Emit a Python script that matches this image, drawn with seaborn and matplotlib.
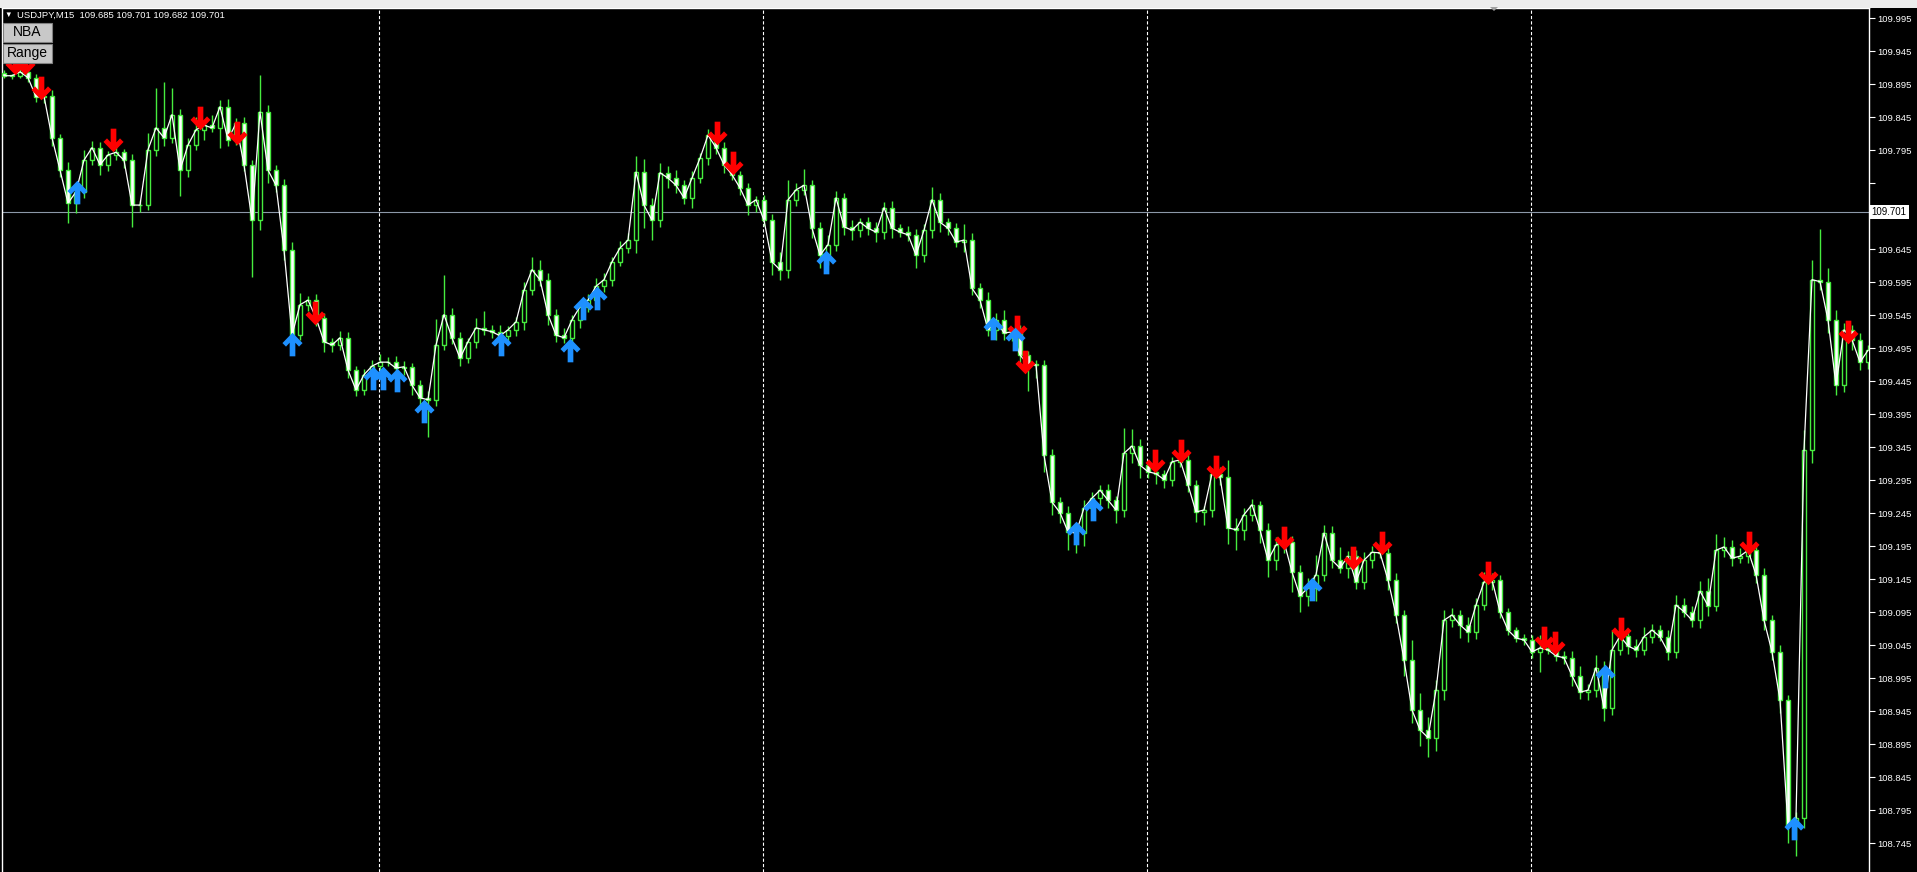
import matplotlib
matplotlib.use("Agg")
import matplotlib.pyplot as plt
import seaborn as sns
import numpy as np
import pandas as pd
from matplotlib.path import Path
from matplotlib.markers import MarkerStyle
from matplotlib.patches import Rectangle, Polygon

sns.set_style("dark")
plt.rcParams['font.family'] = ['Liberation Sans', 'DejaVu Sans']

W, H = 1917, 872

# USDJPY M15 closes (one candle per two bars)
closes = [
    109.908, 109.908, 109.914, 109.905, 109.876, 109.877, 109.814, 109.765, 109.715, 109.732,
    109.780, 109.799, 109.773, 109.788, 109.792, 109.780, 109.712, 109.712, 109.796, 109.829,
    109.814, 109.849, 109.765, 109.803, 109.826, 109.833, 109.829, 109.861, 109.811, 109.836,
    109.773, 109.689, 109.853, 109.765, 109.742, 109.644, 109.515, 109.561, 109.568, 109.541,
    109.505, 109.500, 109.511, 109.462, 109.432, 109.455, 109.468, 109.474, 109.474, 109.465,
    109.467, 109.439, 109.420, 109.417, 109.500, 109.546, 109.511, 109.480, 109.505, 109.526,
    109.523, 109.520, 109.514, 109.523, 109.535, 109.583, 109.614, 109.599, 109.546, 109.515,
    109.511, 109.538, 109.558, 109.568, 109.589, 109.599, 109.626, 109.647, 109.659, 109.762,
    109.712, 109.689, 109.761, 109.753, 109.742, 109.723, 109.753, 109.783, 109.818, 109.799,
    109.773, 109.758, 109.738, 109.712, 109.720, 109.689, 109.626, 109.614, 109.720, 109.735,
    109.742, 109.677, 109.636, 109.652, 109.723, 109.679, 109.674, 109.686, 109.677, 109.671,
    109.708, 109.677, 109.671, 109.667, 109.636, 109.674, 109.720, 109.686, 109.677, 109.656,
    109.659, 109.586, 109.568, 109.523, 109.538, 109.518, 109.520, 109.485, 109.470, 109.470,
    109.333, 109.262, 109.246, 109.217, 109.215, 109.253, 109.268, 109.280, 109.265, 109.250,
    109.336, 109.347, 109.318, 109.308, 109.305, 109.296, 109.323, 109.326, 109.288, 109.247,
    109.250, 109.305, 109.300, 109.223, 109.220, 109.243, 109.258, 109.220, 109.174, 109.197,
    109.202, 109.156, 109.120, 109.132, 109.152, 109.215, 109.174, 109.162, 109.180, 109.141,
    109.174, 109.186, 109.185, 109.144, 109.091, 109.023, 108.947, 108.917, 108.905, 108.977,
    109.083, 109.091, 109.076, 109.065, 109.106, 109.141, 109.144, 109.096, 109.068, 109.056,
    109.053, 109.035, 109.041, 109.038, 109.029, 109.026, 108.999, 108.974, 108.977, 109.011,
    108.950, 109.038, 109.059, 109.044, 109.038, 109.058, 109.068, 109.058, 109.035, 109.106,
    109.096, 109.083, 109.127, 109.105, 109.189, 109.194, 109.177, 109.180, 109.189, 109.152,
    109.083, 109.035, 108.962, 108.771, 108.783, 109.341, 109.599, 109.596, 109.538, 109.439,
    109.523, 109.508, 109.474, 109.492,
]
first_open = 109.912

# wick lengths in points (0.001) above / below the body
upper_wick = [
    4, 3, 6, 4, 5, 8, 10, 6, 12, 8,
    15, 10, 8, 6, 12, 5, 10, 8, 25, 60,
    70, 40, 8, 10, 20, 8, 15, 10, 12, 8,
    10, 8, 56, 10, 8, 10, 12, 18, 6, 10,
    8, 6, 10, 8, 6, 8, 10, 12, 8, 10,
    8, 6, 8, 10, 40, 60, 10, 8, 6, 15,
    25, 8, 10, 6, 8, 12, 20, 15, 10, 8,
    10, 8, 8, 10, 12, 10, 8, 10, 10, 25,
    20, 10, 15, 10, 12, 8, 10, 8, 10, 6,
    8, 10, 6, 8, 6, 8, 10, 15, 30, 10,
    25, 8, 10, 15, 10, 8, 10, 6, 8, 10,
    8, 10, 6, 10, 8, 10, 20, 10, 6, 8,
    25, 10, 8, 12, 10, 15, 8, 10, 6, 8,
    8, 10, 8, 10, 8, 12, 10, 8, 10, 6,
    38, 25, 10, 8, 10, 6, 8, 10, 12, 8,
    6, 8, 10, 25, 15, 10, 8, 6, 10, 12,
    10, 8, 10, 15, 30, 12, 10, 20, 8, 10,
    12, 10, 15, 8, 10, 8, 30, 25, 20, 15,
    15, 10, 8, 12, 10, 15, 10, 8, 6, 5,
    6, 8, 20, 10, 6, 8, 10, 15, 10, 20,
    10, 30, 10, 8, 10, 15, 10, 8, 10, 15,
    10, 8, 15, 20, 25, 15, 10, 12, 10, 8,
    10, 8, 10, 8, 10, 30, 30, 76, 20, 15,
    10, 8, 10, 8,
]
lower_wick = [
    4, 5, 3, 6, 8, 10, 12, 10, 30, 15,
    10, 8, 15, 10, 8, 12, 33, 10, 8, 10,
    12, 8, 40, 10, 8, 15, 6, 30, 10, 8,
    10, 86, 15, 20, 10, 15, 20, 8, 10, 12,
    15, 10, 8, 12, 10, 8, 10, 8, 6, 8,
    10, 15, 12, 56, 10, 8, 10, 12, 8, 10,
    8, 10, 6, 8, 10, 12, 8, 10, 15, 10,
    8, 10, 12, 8, 10, 8, 10, 6, 8, 20,
    35, 30, 10, 15, 12, 10, 15, 8, 10, 10,
    12, 8, 10, 15, 10, 8, 20, 15, 12, 10,
    8, 15, 20, 15, 10, 12, 15, 10, 10, 15,
    10, 15, 8, 10, 20, 10, 12, 15, 10, 8,
    15, 10, 12, 10, 15, 10, 12, 15, 40, 20,
    25, 20, 15, 28, 30, 20, 15, 10, 12, 20,
    10, 15, 20, 10, 15, 12, 10, 8, 10, 15,
    20, 10, 12, 25, 30, 15, 10, 20, 25, 15,
    12, 30, 25, 15, 20, 10, 12, 8, 15, 10,
    10, 12, 8, 15, 12, 25, 20, 25, 30, 20,
    15, 10, 20, 15, 10, 8, 12, 10, 8, 6,
    8, 10, 30, 6, 8, 10, 15, 10, 12, 10,
    20, 10, 8, 12, 10, 8, 10, 6, 12, 10,
    8, 10, 12, 15, 8, 10, 12, 8, 10, 12,
    15, 12, 20, 25, 45, 15, 20, 12, 20, 15,
    10, 15, 12, 10,
]

# signal arrows (bar position, price)
sell_idx = [1.4, 2.6, 4.6, 13.6, 24.5, 29.1, 38.9, 89.1, 91.1, 126.6, 127.6, 143.9,
            147.1, 151.5, 160.0, 168.6, 172.3, 185.5, 192.5, 193.9, 202.1, 218.1, 230.5]
sell_px = [109.927, 109.927, 109.889, 109.811, 109.844, 109.821, 109.549, 109.821, 109.776,
           109.527, 109.474, 109.324, 109.339, 109.315, 109.208, 109.177, 109.200, 109.155,
           109.056, 109.049, 109.070, 109.200, 109.520]
buy_idx = [9.1, 36.0, 46.1, 47.4, 49.1, 52.5, 62.1, 70.75, 72.4, 74.1, 102.75, 123.6,
           126.4, 134.0, 136.1, 163.5, 200.1, 223.75]
buy_px = [109.732, 109.502, 109.450, 109.450, 109.447, 109.400, 109.502, 109.492, 109.556,
          109.571, 109.626, 109.526, 109.509, 109.215, 109.252, 109.130, 108.999, 108.768]

day_breaks = [46.875, 94.875, 142.875, 190.875]
bid = 109.701
price_ticks = [109.995, 109.945, 109.895, 109.845, 109.795, 109.745, 109.695, 109.645,
               109.595, 109.545, 109.495, 109.445, 109.395, 109.345, 109.295, 109.245,
               109.195, 109.145, 109.095, 109.045, 108.995, 108.945, 108.895, 108.845,
               108.795, 108.745]
hidden_ticks = [109.745, 109.695]

df = pd.DataFrame({'close': closes})
df['open'] = [first_open] + closes[:-1]
df['bar'] = np.arange(len(df))
df['high'] = df[['open', 'close']].max(axis=1) + np.array(upper_wick) / 1000
df['low'] = df[['open', 'close']].min(axis=1) - np.array(lower_wick) / 1000
df['bull'] = df['close'] >= df['open']

LIME = '#46ec3e'

fig = plt.figure(figsize=(W / 100, H / 100), dpi=100, facecolor='black')
ax = fig.add_axes([2 / W, 0, 1867 / W, 864 / H])
ax.set_facecolor('black')

# window strip on top
fig.patches.append(Rectangle((0, 864 / H), 1, 8 / H, transform=fig.transFigure,
                             facecolor='#ececec', edgecolor='none', zorder=0))
fig.patches.append(Polygon([[1490 / W, 865 / H], [1498 / W, 865 / H], [1494 / W, 861 / H]],
                           closed=True, transform=fig.transFigure,
                           facecolor='#a0a0a0', edgecolor='none', zorder=5))

for x in day_breaks:
    ax.axvline(x, color='white', lw=0.8, ls=(0, (2.9, 1.9)), zorder=1)
ax.axhline(bid, color='#8c98a8', lw=0.8, zorder=1)

# candles
ax.vlines(df['bar'], df['low'], df['high'], color=LIME, lw=1.0, zorder=2)
ax.bar(df['bar'], (df['close'] - df['open']).abs().clip(lower=0.0005),
       bottom=df[['open', 'close']].min(axis=1), width=0.45,
       color=np.where(df['bull'], 'black', 'white'), edgecolor=LIME,
       linewidth=1.0, zorder=3)

sns.lineplot(x=df['bar'], y=df['close'], color='white', lw=0.9, ax=ax, zorder=4)

up_path = Path([(0, 1), (0.85, 0.12), (0.55, -0.18), (0.24, 0.15), (0.24, -1),
                (-0.24, -1), (-0.24, 0.15), (-0.55, -0.18), (-0.85, 0.12), (0, 1)],
               closed=True)
down_path = Path([(x, -y) for x, y in up_path.vertices], closed=True)
sns.scatterplot(x=sell_idx, y=sell_px, marker=MarkerStyle(down_path), s=290,
                color='#ff0000', linewidth=0, ax=ax, zorder=6)
sns.scatterplot(x=buy_idx, y=buy_px, marker=MarkerStyle(up_path), s=290,
                color='#1e90ff', linewidth=0, ax=ax, zorder=6)

ax.set_xlim(-0.25, 233.125)
ax.set_ylim(108.7015, 110.0106)
ax.set_xlabel('')
ax.set_ylabel('')
ax.set_xticks([])
ax.yaxis.tick_right()
ax.set_yticks(price_ticks)
ax.set_yticklabels(['' if t in hidden_ticks else f'{t:.3f}' for t in price_ticks])
ax.tick_params(axis='y', colors='white', length=4, width=0.8, pad=2,
               labelsize=6.8, labelcolor='white')
for side in ['left', 'top', 'right']:
    ax.spines[side].set_color('white')
    ax.spines[side].set_linewidth(1)
ax.spines['bottom'].set_visible(False)
ax.grid(False)

# current bid label
ax.text(1.0015, bid, f'{bid:.3f}', transform=ax.get_yaxis_transform(),
        ha='left', va='center', fontsize=7, color='black', zorder=10, clip_on=False,
        bbox=dict(boxstyle='square,pad=0.2', facecolor='white', edgecolor='none'))

# header and buttons
fig.text(4 / W, 1 - 15 / H, '\u25bc', color='white', fontsize=5.5, va='center')
fig.text(17 / W, 1 - 15 / H, 'USDJPY,M15  109.685 109.701 109.682 109.701',
         color='white', fontsize=6.8, va='center')
for label, y0 in [('NBA', 23), ('Range', 44)]:
    fig.patches.append(Rectangle((3 / W, 1 - (y0 + 19) / H), 49 / W, 19 / H,
                                 transform=fig.transFigure, facecolor='#c8c8c8',
                                 edgecolor='#808080', lw=0.8, zorder=8))
    fig.text(27.5 / W, 1 - (y0 + 9.5) / H, label, color='black', fontsize=10,
             ha='center', va='center', zorder=9)

fig.savefig('out.png', dpi=100, facecolor='black')
